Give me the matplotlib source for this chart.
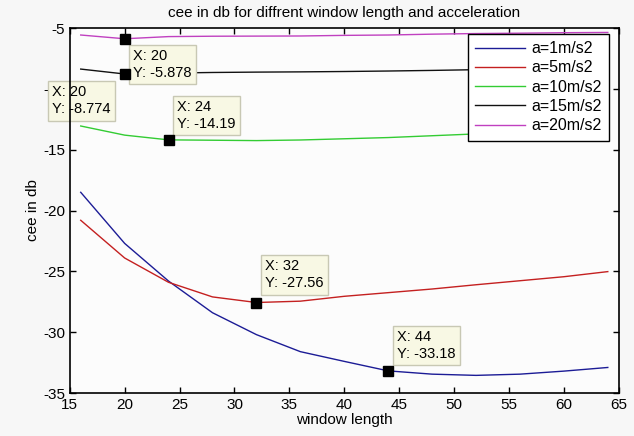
import matplotlib
matplotlib.use('Agg')
import matplotlib.pyplot as plt

plt.rcParams['font.family'] = ['Liberation Sans', 'DejaVu Sans']
plt.rcParams['axes.unicode_minus'] = False

windowLength = [16, 20, 24, 28, 32, 36, 40, 44, 48, 52, 56, 60, 64]

cee1 = [-18.5, -22.7, -25.8, -28.4, -30.2, -31.6, -32.4, -33.18, -33.45, -33.55, -33.45, -33.2, -32.9]
cee5 = [-20.8, -23.9, -25.9, -27.1, -27.56, -27.45, -27.05, -26.75, -26.45, -26.1, -25.77, -25.44, -25.02]
cee10 = [-13.05, -13.8, -14.19, -14.22, -14.25, -14.2, -14.1, -14.0, -13.85, -13.7, -13.6, -13.5, -13.45]
cee15 = [-8.37, -8.774, -8.7, -8.65, -8.62, -8.6, -8.57, -8.53, -8.48, -8.42, -8.38, -8.35, -8.3]
cee20 = [-5.57, -5.878, -5.7, -5.67, -5.66, -5.65, -5.6, -5.57, -5.5, -5.45, -5.42, -5.38, -5.36]

labels = ['a=1m/s2', 'a=5m/s2', 'a=10m/s2', 'a=15m/s2', 'a=20m/s2']
colors = ['#1c1c96', '#c42020', '#33cc33', '#111111', '#c040c0']

# data tips: (x, y, text offset in points)
dataTips = [
    (20, -5.878, (6.0, -7.5)),
    (20, -8.774, (-52.3, -8.2)),
    (24, -14.19, (6.2, 28.5)),
    (32, -27.56, (6.3, 31.0)),
    (44, -33.18, (6.5, 29.4)),
]


def main():
    fig = plt.figure(figsize=(6.34, 4.36), dpi=100)
    fig.patch.set_facecolor('#f7f7f7')
    ax = fig.add_axes([0.110, 0.0986, 0.866, 0.837])
    ax.set_facecolor('#fcfcfc')

    series = [cee1, cee5, cee10, cee15, cee20]
    for vals, lab, col in zip(series, labels, colors):
        ax.plot(windowLength, vals, color=col, linewidth=1.0, label=lab)

    # MATLAB style data tips (the -10 tick label sits under one of them, as in the original)
    for x, y, off in dataTips:
        ax.plot([x], [y], marker='s', color='black', markersize=7, zorder=6)
        ax.annotate('X: {}\nY: {}'.format(x, y), xy=(x, y), xytext=off,
                    textcoords='offset points', fontsize=10.5, ha='left', va='top',
                    linespacing=1.25, annotation_clip=False, zorder=4,
                    bbox=dict(boxstyle='square,pad=0.3', facecolor='#f8f8e4',
                              edgecolor='#c8c8b4', linewidth=1.0))

    ax.set_xlim(15, 65)
    ax.set_ylim(-35, -5)
    ax.set_xticks(range(15, 66, 5))
    ax.set_yticks(range(-35, -4, 5))
    ax.tick_params(direction='in', top=True, right=True, length=4.5, labelsize=11, width=1)
    for sp in ax.spines.values():
        sp.set_linewidth(1.2)
        sp.set_zorder(5)

    ax.set_title('cee in db for diffrent window length and acceleration', fontsize=11, pad=8)
    ax.set_xlabel('window length', fontsize=11, labelpad=0.5)
    ax.set_ylabel('cee in db', fontsize=11, labelpad=2)

    leg = ax.legend(loc='upper right', bbox_to_anchor=(0.982, 0.984), fontsize=11.5,
                    handlelength=3.1, fancybox=False, framealpha=1, edgecolor='black',
                    borderaxespad=0, labelspacing=0.27, handletextpad=0.4,
                    borderpad=0.45)
    leg.get_frame().set_linewidth(1.0)
    leg.set_zorder(7)

    fig.savefig('out.png', dpi=100, facecolor=fig.get_facecolor())


if __name__ == '__main__':
    main()
